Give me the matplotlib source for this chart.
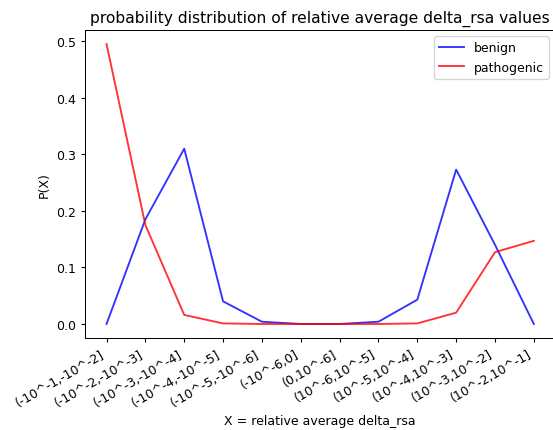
import numpy as np
import matplotlib.pyplot as plt

# bins of relative average delta_rsa
bins = ['(-10^-1,-10^-2]', '(-10^-2,-10^-3]', '(-10^-3,-10^-4]', '(-10^-4,-10^-5]',
        '(-10^-5,-10^-6]', '(-10^-6,0]', '(0,10^-6]', '(10^-6,10^-5]',
        '(10^-5,10^-4]', '(10^-4,10^-3]', '(10^-3,10^-2]', '(10^-2,10^-1]']

benign = [0.0, 0.185, 0.31, 0.04, 0.004, 0.0, 0.0, 0.004, 0.043, 0.273, 0.14, 0.0]
pathogenic = [0.495, 0.175, 0.016, 0.001, 0.0, 0.0, 0.0, 0.0, 0.001, 0.02, 0.127, 0.147]

# the reference looks like a slightly shrunk default figure, cropped on the right
plt.rcParams['font.size'] = 9
plt.rcParams['axes.titlesize'] = 11.2
plt.rcParams['lines.linewidth'] = 1.35
plt.rcParams['axes.linewidth'] = 0.72
plt.rcParams['xtick.major.size'] = 3.15
plt.rcParams['ytick.major.size'] = 3.15

fig, ax = plt.subplots(figsize=(5.53, 4.31), dpi=100)
fig.subplots_adjust(left=0.154, right=1.004, top=0.928, bottom=0.2135)

x = np.arange(len(bins))
ax.plot(x, benign, color='blue', alpha=0.8, label='benign')
ax.plot(x, pathogenic, color='red', alpha=0.8, label='pathogenic')

ax.set_xticks(x)
ax.set_xticklabels(bins, rotation=30, ha='right')
ax.set_xlabel('X = relative average delta_rsa')
ax.set_ylabel('P(X)')
ax.set_title('probability distribution of relative average delta_rsa values')
ax.legend(loc='upper right')

fig.savefig('out.png')
